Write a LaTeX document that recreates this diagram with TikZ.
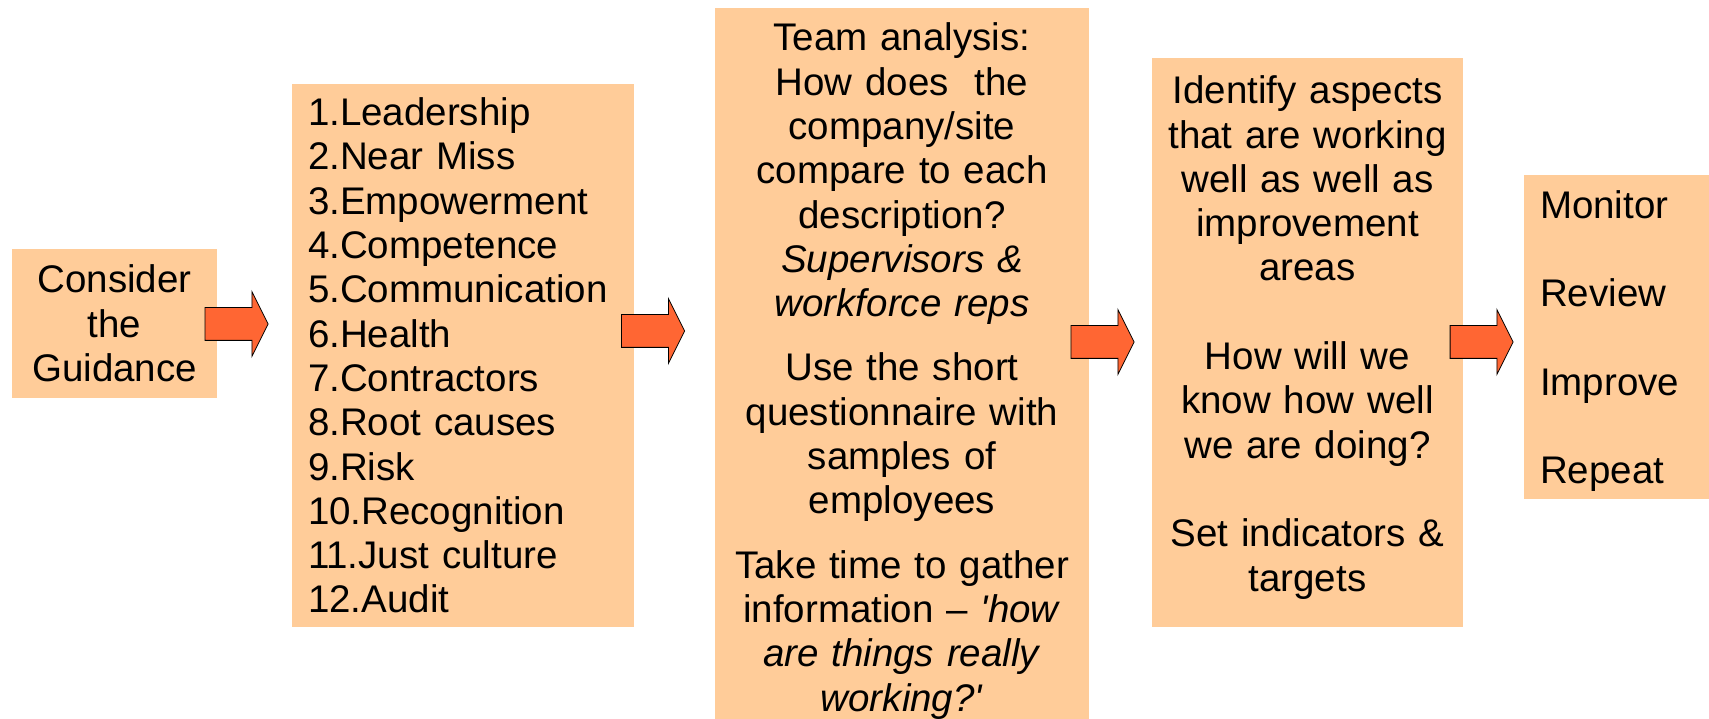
\documentclass[tikz,border=0pt]{standalone}
\usepackage{fontspec}
\setmainfont{Liberation Sans}
\usetikzlibrary{shapes.arrows, positioning}
\definecolor{boxpeach}{HTML}{FFCC99}
\definecolor{arrowred}{HTML}{FF6633}

\begin{document}
\begin{tikzpicture}[x=1pt, y=1pt]
	\tikzstyle{StepNode} = [ %peach box for each step
		fill=boxpeach,
		inner sep=0pt,
		font=\fontsize{38.5pt}{44.3pt}\selectfont
	]
	\tikzstyle{ArrNode} = [
		single arrow,
		draw=black,
		line width=0.8pt,
		fill=arrowred,
		minimum height=63pt,
		single arrow head extend=16pt,
		single arrow tip angle=127,
		inner xsep=0pt,
		inner ysep=16pt
	]
	\useasboundingbox (0,0) rectangle (1709,718);

	\node (guide) [StepNode, minimum width=205pt, minimum height=149pt, text width=190pt, align=center] at (114.5,394.5) {Consider\\the\\Guidance};
	\node (topics) [StepNode, minimum width=342pt, minimum height=543pt, text width=310pt, align=left] at (463,362.5) {1.Leadership\\2.Near Miss\\3.Empowerment\\4.Competence\\5.Communication\\6.Health\\7.Contractors\\8.Root causes\\9.Risk\\10.Recognition\\11.Just culture\\12.Audit};
	\node (team) [StepNode, minimum width=374pt, minimum height=723pt, text width=350pt, align=center] at (902,348.5) {\rule{0pt}{31pt}Team analysis:\\How does~~the\\company/site\\compare to each\\description?\\\textit{Supervisors \&}\\\textit{workforce reps}\\[20pt]Use the short\\questionnaire with\\samples of\\employees\\[20pt]Take time to gather\\information – \textit{\textquotesingle how}\\\textit{are things really}\\\textit{working?\textquotesingle}};
	\node (aspects) [StepNode, minimum width=311pt, minimum height=569pt, text width=295pt, align=center] at (1307.5,375.5) {Identify aspects\\that are working\\well as well as\\improvement\\areas\\[\baselineskip]How will we\\know how well\\we are doing?\\[\baselineskip]Set indicators \&\\targets\rule[-18pt]{0pt}{0pt}};
	\node (cycle) [StepNode, minimum width=185pt, minimum height=324pt, text width=153pt, align=left] at (1616.5,381) {\rule{0pt}{36pt}Monitor\\[\baselineskip]Review\\[\baselineskip]Improve\\[\baselineskip]Repeat};

	\node (a1) [ArrNode] at (232.5,394) {};
	\node (a2) [ArrNode] at (649,387) {};
	\node (a3) [ArrNode] at (1098.5,376) {};
	\node (a4) [ArrNode] at (1477.5,376) {};
\end{tikzpicture}
\end{document}
